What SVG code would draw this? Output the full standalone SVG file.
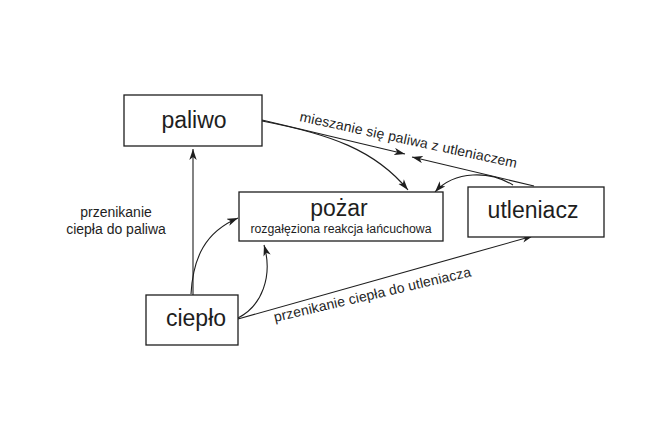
<svg xmlns="http://www.w3.org/2000/svg" width="670" height="447" viewBox="0 0 670 447">
  <style>
    .box { fill: #fff; stroke: #1e1e1e; stroke-width: 1.3; }
    .big { font-family: "Liberation Sans", Arial, sans-serif; font-size: 23px; fill: #1e1e1e; text-anchor: middle; }
    .small { font-family: "Liberation Sans", Arial, sans-serif; font-size: 12.3px; fill: #1e1e1e; text-anchor: middle; }
    .lbl { font-family: "Liberation Sans", Arial, sans-serif; font-size: 14px; fill: #1e1e1e; }
    .edge { fill: none; stroke: #1e1e1e; stroke-width: 1.1; marker-end: url(#arrow); }
  </style>
  <defs>
    <marker id="arrow" markerUnits="userSpaceOnUse" markerWidth="12" markerHeight="8" refX="11" refY="4" orient="auto">
      <path d="M0,0.3 L11,4 L0,7.7 L3,4 Z" fill="#1e1e1e"/>
    </marker>
  </defs>
  <rect width="670" height="447" fill="#fff"/>

  <!-- connectors -->
  <g id="connectors">
    <path class="edge" d="M193,295 L193,149"/>
    <path class="edge" d="M191,294 C193,258 205,232 238,218"/>
    <path class="edge" d="M238,318 C262,306 273,276 264,245"/>
    <path class="edge" d="M238,319 L533,236"/>
    <path class="edge" d="M262,121 C330,134 375,150 408,190"/>
    <path class="edge" d="M262,120 L405,154"/>
    <path class="edge" d="M534,186 L412,157"/>
    <path class="edge" d="M513,185 C490,171 455,170 435,192"/>
  </g>

  <!-- edge labels -->
  <g id="labels">
    <text class="lbl" x="116" y="217" text-anchor="middle">przenikanie</text>
    <text class="lbl" x="116" y="233.5" text-anchor="middle">ciepła do paliwa</text>
    <text class="lbl" transform="translate(299,121) rotate(12.2)" textLength="222" lengthAdjust="spacing">mieszanie się paliwa z utleniaczem</text>
    <text class="lbl" transform="translate(275,322) rotate(-13.1)" textLength="202" lengthAdjust="spacing">przenikanie ciepła do utleniacza</text>
  </g>

  <!-- nodes -->
  <g id="paliwo">
    <rect class="box" x="124" y="95" width="138" height="51"/>
    <text class="big" x="194" y="128">paliwo</text>
  </g>
  <g id="pozar">
    <rect class="box" x="239" y="192" width="204" height="49"/>
    <text class="big" x="339" y="216">pożar</text>
    <text class="small" x="341" y="233">rozgałęziona reakcja łańcuchowa</text>
  </g>
  <g id="utleniacz">
    <rect class="box" x="468" y="187" width="136" height="50"/>
    <text class="big" x="533" y="218">utleniacz</text>
  </g>
  <g id="cieplo">
    <rect class="box" x="146" y="295" width="92" height="50"/>
    <text class="big" x="196" y="326">ciepło</text>
  </g>
</svg>
